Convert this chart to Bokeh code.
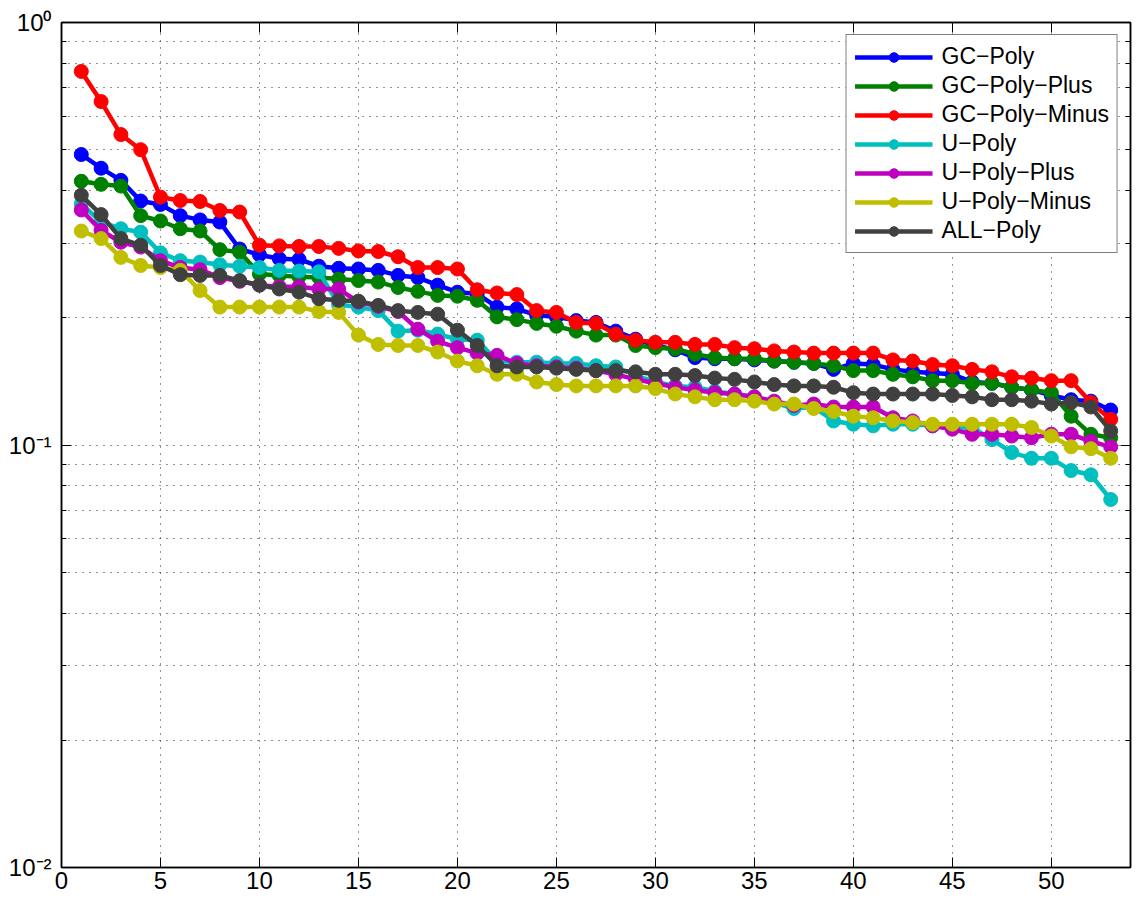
from bokeh.plotting import figure
from bokeh.models import FixedTicker, LinearAxis, LogAxis, CustomJSTickFormatter, Legend, LegendItem
from bokeh.embed import file_html
from bokeh.resources import INLINE

x = list(range(1, 54))

gc_poly = [0.487, 0.452, 0.423, 0.378, 0.371, 0.349, 0.341, 0.337, 0.291, 0.282,
           0.276, 0.275, 0.265, 0.262, 0.261, 0.259, 0.252, 0.249, 0.239, 0.230,
           0.228, 0.212, 0.210, 0.203, 0.201, 0.197, 0.195, 0.186, 0.178, 0.172,
           0.168, 0.161, 0.160, 0.160, 0.159, 0.158, 0.157, 0.156, 0.151, 0.156,
           0.155, 0.151, 0.149, 0.148, 0.147, 0.141, 0.140, 0.137, 0.135, 0.131,
           0.128, 0.127, 0.121]
gc_poly_plus = [0.421, 0.414, 0.410, 0.349, 0.339, 0.325, 0.321, 0.290, 0.286, 0.254,
                0.252, 0.250, 0.249, 0.247, 0.245, 0.243, 0.236, 0.231, 0.226, 0.225,
                0.220, 0.201, 0.198, 0.194, 0.191, 0.186, 0.182, 0.182, 0.172, 0.170,
                0.169, 0.164, 0.161, 0.160, 0.160, 0.158, 0.157, 0.156, 0.154, 0.150,
                0.150, 0.147, 0.145, 0.142, 0.142, 0.140, 0.140, 0.137, 0.135, 0.133,
                0.117, 0.106, 0.104]
gc_poly_minus = [0.766, 0.650, 0.543, 0.500, 0.386, 0.379, 0.377, 0.359, 0.356, 0.297,
                 0.296, 0.295, 0.295, 0.292, 0.288, 0.287, 0.279, 0.263, 0.263, 0.261,
                 0.233, 0.229, 0.227, 0.208, 0.206, 0.195, 0.194, 0.183, 0.177, 0.175,
                 0.175, 0.173, 0.173, 0.170, 0.169, 0.167, 0.166, 0.165, 0.165, 0.165,
                 0.165, 0.159, 0.158, 0.155, 0.154, 0.151, 0.149, 0.145, 0.144, 0.142,
                 0.142, 0.126, 0.115]
u_poly = [0.372, 0.337, 0.325, 0.319, 0.285, 0.273, 0.271, 0.267, 0.265, 0.263,
          0.259, 0.258, 0.257, 0.215, 0.212, 0.208, 0.186, 0.187, 0.183, 0.178,
          0.177, 0.158, 0.157, 0.157, 0.156, 0.156, 0.154, 0.153, 0.146, 0.141,
          0.138, 0.137, 0.134, 0.132, 0.130, 0.126, 0.122, 0.123, 0.114, 0.112,
          0.111, 0.112, 0.112, 0.111, 0.110, 0.110, 0.103, 0.096, 0.093, 0.093,
          0.087, 0.085, 0.0743]
u_poly_plus = [0.360, 0.322, 0.302, 0.294, 0.273, 0.263, 0.260, 0.249, 0.244, 0.239,
               0.237, 0.237, 0.234, 0.234, 0.218, 0.213, 0.207, 0.188, 0.176, 0.170,
               0.165, 0.163, 0.156, 0.154, 0.153, 0.152, 0.150, 0.147, 0.143, 0.140,
               0.137, 0.135, 0.133, 0.132, 0.130, 0.127, 0.124, 0.125, 0.123, 0.123,
               0.123, 0.116, 0.114, 0.111, 0.109, 0.106, 0.106, 0.105, 0.104, 0.106,
               0.106, 0.102, 0.099]
u_poly_minus = [0.321, 0.308, 0.278, 0.266, 0.263, 0.259, 0.232, 0.212, 0.212, 0.212,
                0.212, 0.212, 0.207, 0.206, 0.182, 0.173, 0.172, 0.172, 0.166, 0.158,
                0.154, 0.147, 0.147, 0.141, 0.139, 0.138, 0.138, 0.138, 0.138, 0.136,
                0.132, 0.130, 0.128, 0.128, 0.127, 0.125, 0.125, 0.122, 0.120, 0.117,
                0.116, 0.114, 0.113, 0.112, 0.112, 0.112, 0.112, 0.112, 0.110, 0.105,
                0.099, 0.098, 0.093]
all_poly = [0.390, 0.351, 0.308, 0.297, 0.266, 0.253, 0.252, 0.252, 0.245, 0.239,
            0.234, 0.230, 0.222, 0.220, 0.219, 0.214, 0.208, 0.206, 0.204, 0.187,
            0.172, 0.154, 0.153, 0.153, 0.152, 0.151, 0.150, 0.150, 0.149, 0.147,
            0.147, 0.146, 0.144, 0.143, 0.141, 0.139, 0.138, 0.138, 0.137, 0.133,
            0.132, 0.132, 0.132, 0.132, 0.131, 0.130, 0.128, 0.128, 0.127, 0.125,
            0.126, 0.123, 0.108]

names = ["GC\u2212Poly", "GC\u2212Poly\u2212Plus", "GC\u2212Poly\u2212Minus",
         "U\u2212Poly", "U\u2212Poly\u2212Plus", "U\u2212Poly\u2212Minus", "ALL\u2212Poly"]
colors = ["#0000FF", "#008000", "#FF0000", "#00BFBF", "#BF00BF", "#BFBF00", "#404040"]
data = [gc_poly, gc_poly_plus, gc_poly_minus, u_poly, u_poly_plus, u_poly_minus, all_poly]

x_ticks = [0, 5, 10, 15, 20, 25, 30, 35, 40, 45, 50]
y_major = [0.01, 0.1, 1.0]
y_minor = [m * d for d in (0.01, 0.1) for m in range(2, 10)]

FONT = "Liberation Sans"

p = figure(width=1136, height=897, y_axis_type="log",
           x_range=(0, 54), y_range=(0.01, 1),
           output_backend="svg", toolbar_location=None,
           min_border_left=61, min_border_right=6,
           min_border_top=22, min_border_bottom=30,
           x_axis_location=None, y_axis_location=None)
p.outline_line_color = "black"
p.outline_line_width = 1.5

xt = FixedTicker(ticks=x_ticks, minor_ticks=[])
yt = FixedTicker(ticks=y_major, minor_ticks=y_minor)
ylab = CustomJSTickFormatter(code="""
const e = Math.round(Math.log10(tick));
const sup = {'-2': '\u207b\u00b2', '-1': '\u207b\u00b9', '0': '\u2070'};
return '10' + sup[String(e)];
""")
blank = CustomJSTickFormatter(code="return '';")

def style(ax):
    ax.axis_line_color = "black"
    ax.axis_line_width = 1.5
    ax.major_tick_in = 10
    ax.major_tick_out = 0
    ax.minor_tick_in = 5
    ax.minor_tick_out = 0
    ax.major_tick_line_color = "black"
    ax.minor_tick_line_color = "black"
    ax.major_label_text_font = FONT
    ax.major_label_text_font_size = "24px"
    ax.major_label_text_color = "black"
    ax.major_label_standoff = 4

bx = LinearAxis(ticker=xt)
style(bx)
p.add_layout(bx, "below")
tx = LinearAxis(ticker=xt, formatter=blank)
style(tx)
tx.major_label_standoff = 0
tx.major_label_text_font_size = "1px"
p.add_layout(tx, "above")
ly = LogAxis(ticker=yt, formatter=ylab)
style(ly)
ly.major_label_standoff = 10
p.add_layout(ly, "left")
ry = LogAxis(ticker=yt, formatter=blank)
style(ry)
ry.major_label_standoff = 0
ry.major_label_text_font_size = "1px"
p.add_layout(ry, "right")

p.xgrid.ticker = xt
p.ygrid.ticker = yt
for g in (p.xgrid, p.ygrid):
    g.grid_line_color = "black"
    g.grid_line_dash = "1 6"
    g.grid_line_width = 1
    g.grid_line_alpha = 0.85
p.ygrid.minor_grid_line_color = "black"
p.ygrid.minor_grid_line_dash = "1 6"
p.ygrid.minor_grid_line_alpha = 0.85

items = []
for name, ys, c in zip(names, data, colors):
    r1 = p.line(x, ys, line_color=c, line_width=4.5)
    r2 = p.scatter(x, ys, marker="circle", size=14, fill_color=c, line_color=c)
    items.append(LegendItem(label=name, renderers=[r1, r2]))

leg = Legend(items=items, location="top_right")
leg.margin = 12
leg.padding = 8
leg.spacing = 2
leg.glyph_width = 78
leg.glyph_height = 24
leg.label_height = 24
leg.label_standoff = 9
leg.label_text_font = FONT
leg.label_text_font_size = "23px"
leg.label_text_color = "black"
leg.border_line_color = "black"
leg.border_line_width = 1
leg.background_fill_color = "white"
leg.background_fill_alpha = 1
p.add_layout(leg, "center")

open("out.html", "w").write(file_html(p, INLINE))
